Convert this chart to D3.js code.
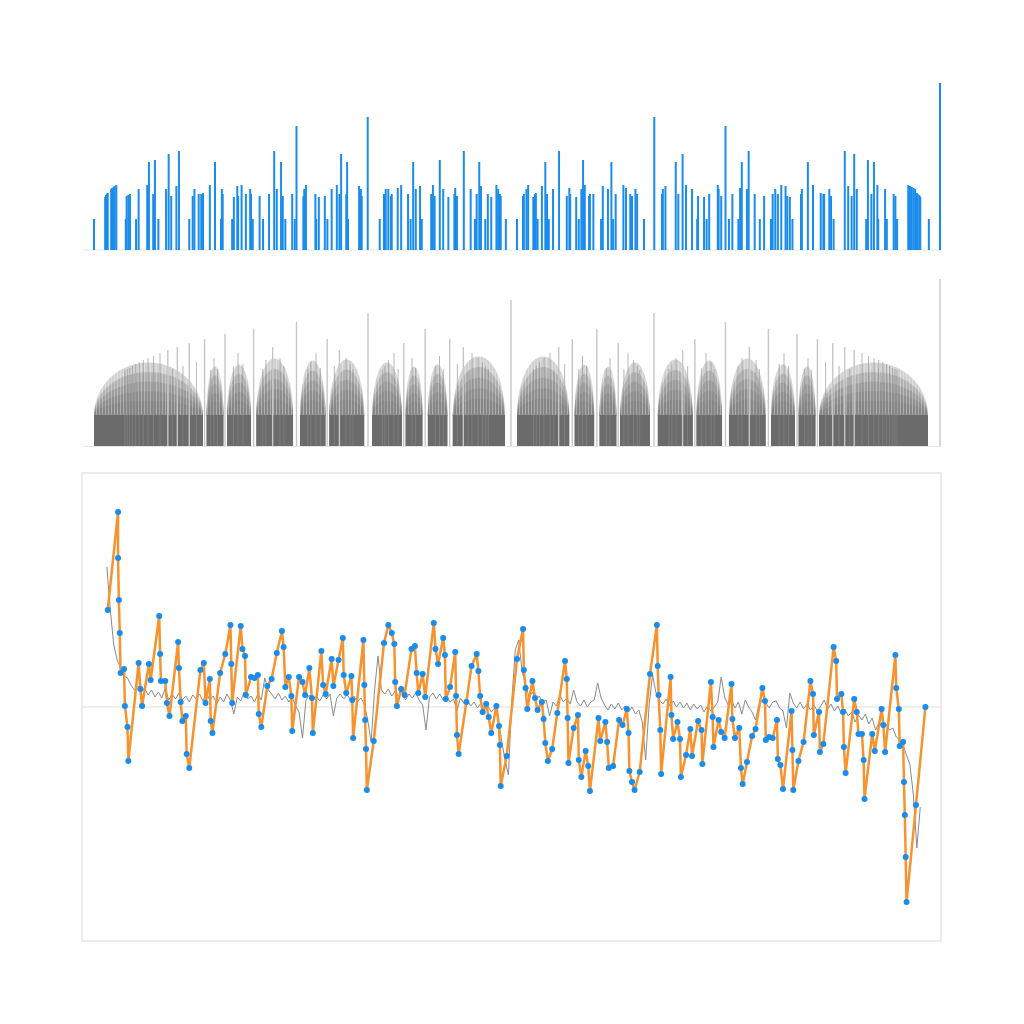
<!DOCTYPE html>
<html><head><meta charset="utf-8">
<script src="https://cdn.jsdelivr.net/npm/d3@7"></script>
<style>body{margin:0;background:#fff}svg{display:block}</style>
</head><body><svg id="c" width="1024" height="1024"></svg>
<script>
// ---------- DATA ----------
// top panel: blue bars (position per-mille of the unit interval, height)
const barPos = [14,27,28,29,30,34,35,37,38,40,51,52,54,56,63,66,76,78,83,85,89,98,101,104,110,113,125,129,131,136,139,141,149,155,162,163,164,175,177,181,182,186,191,196,197,199,207,211,218,224,227,232,234,237,245,248,250,
258,259,261,272,273,276,283,286,291,297,300,302,308,309,310,323,325,326,333,347,352,354,357,360,361,368,372,380,383,386,389,394,396,407,409,411,417,421,427,434,435,437,445,453,458,460,463,465,470,473,477,483,485,487,488,494,
507,514,515,518,520,526,528,529,531,536,540,542,544,549,556,565,568,569,576,579,582,584,586,591,592,596,605,607,613,617,619,622,631,634,639,641,645,647,655,667,676,677,680,692,695,700,704,711,717,718,725,728,731,741,742,745,750,754,
758,765,767,769,775,777,784,790,795,803,805,808,811,815,820,822,825,828,838,839,846,852,861,864,865,871,873,876,889,893,897,900,903,914,916,920,923,927,928,936,938,946,948,950,963,965,967,969,971,973,974,976,977,987,1000];
const barHeight = [31,53,55,56,57,61,62,63,64,65,31,54,55,56,31,61,65,88,56,90,31,61,96,54,64,99,31,54,61,56,56,57,65,88,31,61,56,31,53,64,54,65,56,61,56,31,54,31,56,99,61,88,54,31,56,31,124,
54,61,65,56,31,53,54,31,61,65,56,96,56,88,31,64,61,54,133,31,56,61,61,54,56,62,65,56,31,88,61,64,31,56,65,54,90,61,53,56,62,54,99,61,31,56,88,64,31,56,53,65,61,56,54,31,
31,54,56,61,65,53,56,57,31,64,88,56,31,61,99,54,62,56,53,31,61,90,65,54,56,56,31,64,61,88,31,56,65,62,56,54,61,56,31,133,56,61,64,88,56,96,65,61,31,54,53,31,56,65,61,54,124,31,
56,31,62,88,61,99,56,31,54,31,56,61,56,65,64,54,53,31,56,61,88,65,57,56,56,61,54,31,99,64,54,96,61,31,90,56,88,65,31,61,31,56,54,31,65,64,63,62,61,57,56,55,53,31,167];

// middle panel: fraction spikes and the dense arches between them
const spikeFractions = ("1/1 1/2 1/3 2/3 1/4 3/4 1/5 2/5 3/5 4/5 1/6 5/6 1/7 2/7 3/7 4/7 5/7 6/7 1/8 3/8 5/8 7/8 " +
  "1/9 2/9 4/9 5/9 7/9 8/9 1/10 3/10 7/10 9/10 1/11 2/11 3/11 4/11 5/11 6/11 7/11 8/11 9/11 10/11 1/12 5/12 7/12 11/12 " +
  "1/13 2/13 3/13 4/13 5/13 6/13 7/13 8/13 9/13 10/13 11/13 12/13 1/14 3/14 5/14 9/14 11/14 13/14 " +
  "1/15 2/15 4/15 7/15 8/15 11/15 13/15 14/15 1/16 3/16 5/16 7/16 9/16 11/16 13/16 15/16 " +
  "1/17 2/17 3/17 4/17 5/17 6/17 7/17 8/17 9/17 10/17 11/17 12/17 13/17 14/17 15/17 16/17 " +
  "1/18 5/18 7/18 11/18 13/18 17/18 1/19 2/19 3/19 4/19 5/19 6/19 7/19 8/19 9/19 10/19 11/19 12/19 13/19 14/19 15/19 16/19 17/19 18/19 " +
  "1/20 3/20 7/20 9/20 11/20 13/20 17/20 19/20").split(" ");
const denominatorHeights = [167,146,133,124,117,112,107,103,99,96,93,90,88,86,84,82,80,78,77,76];
const archStart = [14,145,169,203,254,288,338,377,403,432,507,574,603,627,671,716,754,803,835,859];
const archEnd   = [141,165,197,246,284,329,373,397,426,493,568,597,623,662,712,746,797,831,855,986];
const archPeak  = [84,80,82,88,86,87,84,80,82,90,90,82,80,84,87,86,88,82,80,84];
const baseBandHeight = 31;

// bottom panel: thin gray series (uniform sampling from 29 to 977 per-mille)
const grayFrom = 29, grayTo = 977;
const grayValues = [140,97,62,47,39,31,29,22,17,21,15,19,12,17,10,15,9,19,7,13,8,14,7,11,5,12,8,13,6,14,
7,11,3,10,5,13,7,-7,10,6,15,8,11,5,13,7,29,17,13,8,14,7,11,5,10,1,-5,-31,7,12,7,11,6,12,8,13,-9,9,13,8,
12,7,11,5,9,3,-13,-35,17,51,17,13,18,11,16,10,15,7,13,9,14,7,2,-23,10,14,8,13,7,10,5,8,-4,9,4,7,1,5,-1,4,
-3,1,-5,-1,-11,-33,-53,-68,7,57,67,35,23,10,15,7,11,4,7,-9,5,1,12,5,9,3,17,5,1,7,0,5,7,24,9,2,-3,3,-2,4,
-3,1,-5,0,-7,-3,-15,-53,2,32,14,7,3,8,1,6,0,5,-1,4,-3,3,-2,2,-5,1,-4,0,5,30,10,2,7,-1,5,-7,7,0,-5,-13,
2,7,4,-1,5,6,-1,-4,-21,14,4,-1,5,-2,3,-3,2,-4,1,7,-2,3,-4,1,-7,-2,-9,-5,-15,-8,-13,-7,-17,-11,-23,-15,-21,-17,-23,-21,
-30,-33,-39,-48,-58,-88,-141,-100];
// bottom panel: orange series with blue markers
const orangeX = [30,42,42,43,44,45,49,50,53,54,66,68,70,78,80,90,91,92,97,99,102,112,113,115,117,121,122,125,138,142,
144,149,150,152,161,167,173,174,175,185,187,190,191,197,201,205,206,209,216,221,227,233,235,237,241,244,245,253,257,260,
265,268,269,279,281,284,291,293,299,304,305,308,314,315,316,328,329,330,331,332,340,352,357,361,364,365,367,372,376,384,
388,390,392,397,400,410,412,415,421,423,424,429,435,436,437,439,448,454,460,462,464,467,471,474,477,483,486,487,488,495,
507,514,515,517,519,525,528,531,536,538,540,543,548,554,563,565,566,567,573,578,579,582,587,590,592,602,604,610,612,614,
619,626,630,635,637,638,641,644,650,662,670,671,672,674,675,686,687,689,694,697,698,704,709,711,718,722,723,733,735,736,
742,745,749,757,758,761,766,768,770,775,781,785,793,796,797,801,805,810,811,814,817,827,828,829,835,841,849,852,853,859,
860,864,876,879,880,885,887,888,890,900,903,905,909,911,912,921,924,932,934,936,948,949,952,953,957,958,959,960,961,972,983];
const orangeY = [97,195,149,107,74,34,38,1,-20,-54,44,18,1,43,27,91,53,26,26,4,-9,65,39,5,-14,-9,-47,-61,37,44,
4,28,-14,-26,34,53,82,43,4,81,58,51,12,30,29,32,-7,-20,21,28,54,76,60,20,30,11,-24,30,25,12,
39,9,-26,56,22,13,48,21,47,69,32,14,31,7,-31,67,22,-13,-42,-83,-34,64,82,74,63,25,1,18,12,58,
61,34,14,33,10,84,58,43,69,52,8,20,55,11,-28,-47,5,41,53,36,11,-5,3,-10,-26,1,-19,-38,-79,-49,
48,78,37,19,-2,26,9,-3,5,-12,-36,-54,-42,-6,46,28,-11,-56,-21,-8,-53,-70,-44,-59,-84,-11,-34,-15,-35,-61,
-59,-13,-18,-2,-26,-64,-75,-83,-65,33,82,41,12,-23,-67,30,-8,-32,-15,-32,-70,-48,-22,-49,-14,-23,-57,25,-10,-40,
-13,-25,-31,23,-12,-31,-21,-61,-77,-55,-29,-22,19,6,-33,-30,-31,-13,-52,-58,-82,-4,-43,-83,-54,-35,26,13,-28,-5,
-45,-37,60,46,8,13,-5,-40,-66,8,-5,-27,-27,-53,-92,-27,-44,-2,-18,-45,52,19,-2,-39,-35,-75,-108,-150,-195,-98,0];

// ---------- DRAW ----------
const svg = d3.select("#c");
const x = d3.scaleLinear().domain([0, 1000]).range([82, 940]);
const yTop = d3.scaleLinear().domain([0, 167]).range([250, 83]);
const yMid = d3.scaleLinear().domain([0, 167]).range([446, 279]);
const yBot = d3.scaleLinear().domain([-234, 234]).range([941, 473]);
const BLUE = "#1a8cec", ORANGE = "#f7932f";

// stripe texture for the dense spike regions
const defs = svg.append("defs");
const pat = defs.append("pattern").attr("id", "stripes").attr("patternUnits", "userSpaceOnUse")
  .attr("width", 3).attr("height", 10);
pat.append("rect").attr("x", 0).attr("y", 0).attr("width", 1).attr("height", 10).attr("fill", "#ffffff");

// top panel
const gTop = svg.append("g");
gTop.append("line").attr("x1", 82).attr("x2", 941).attr("y1", yTop(0)).attr("y2", yTop(0))
  .attr("stroke", "#e6e6e6").attr("stroke-width", 1);
gTop.selectAll("line.bar").data(barPos.map((p, i) => ({p, h: barHeight[i]}))).join("line")
  .attr("class", "bar")
  .attr("x1", d => x(d.p)).attr("x2", d => x(d.p))
  .attr("y1", yTop(0)).attr("y2", d => yTop(d.h))
  .attr("stroke", BLUE).attr("stroke-width", 2);

// middle panel
const gMid = svg.append("g");
gMid.append("line").attr("x1", 82).attr("x2", 941).attr("y1", yMid(0) + 0.5).attr("y2", yMid(0) + 0.5)
  .attr("stroke", "#e6e6e6").attr("stroke-width", 1);
const arches = archStart.map((s, i) => ({s, e: archEnd[i], p: archPeak[i]}));
const capPath = (d, f) => {
  const x0 = x(d.s), x1 = x(d.e), yb = yMid(baseBandHeight);
  const yp = yMid(baseBandHeight + (d.p - baseBandHeight) * f);
  const rx = (x1 - x0) / 2, ry = yb - yp;
  return `M${x0},${yb + 0.5}A${rx},${ry} 0 0 1 ${x1},${yb + 0.5}Z`;
};
const capLevels = [1, 0.82, 0.64, 0.46, 0.28];
capLevels.forEach(f => {
  gMid.append("g").selectAll("path").data(arches).join("path")
    .attr("d", d => capPath(d, f))
    .attr("fill", "#747474").attr("fill-opacity", 0.33);
});
gMid.append("g").selectAll("path").data(arches).join("path")
  .attr("d", d => capPath(d, 1))
  .attr("fill", "url(#stripes)").attr("fill-opacity", 0.3);
gMid.append("g").selectAll("rect").data(arches).join("rect")
  .attr("x", d => x(d.s)).attr("width", d => x(d.e) - x(d.s))
  .attr("y", yMid(baseBandHeight)).attr("height", yMid(0) - yMid(baseBandHeight))
  .attr("fill", "#6b6b6b");
const spikes = spikeFractions.map(f => { const [a, b] = f.split("/").map(Number); return {pos: a / b * 1000, q: b, h: denominatorHeights[b - 1]}; });
gMid.append("g").selectAll("line").data(spikes.filter(d => d.q > 10)).join("line")
  .attr("x1", d => x(d.pos)).attr("x2", d => x(d.pos))
  .attr("y1", yMid(0)).attr("y2", d => yMid(d.h))
  .attr("stroke", "#8a8a8a").attr("stroke-opacity", 0.6).attr("stroke-width", 1);
gMid.append("g").selectAll("line").data(spikes.filter(d => d.q <= 10)).join("line")
  .attr("x1", d => x(d.pos)).attr("x2", d => x(d.pos))
  .attr("y1", yMid(0)).attr("y2", d => yMid(d.h))
  .attr("stroke", "#c6c6c6").attr("stroke-width", 1.4);

// bottom panel
const gBot = svg.append("g");
gBot.append("rect").attr("x", 82).attr("y", 473).attr("width", 859).attr("height", 468)
  .attr("fill", "none").attr("stroke", "#e6e6e6").attr("stroke-width", 1.5);
gBot.append("line").attr("x1", 82).attr("x2", 941).attr("y1", yBot(0)).attr("y2", yBot(0))
  .attr("stroke", "#e0e0e0").attr("stroke-width", 1);
const gx = d3.scaleLinear().domain([0, grayValues.length - 1]).range([x(grayFrom), x(grayTo)]);
gBot.append("path").datum(grayValues)
  .attr("d", d3.line().x((d, i) => gx(i)).y(d => yBot(d)))
  .attr("fill", "none").attr("stroke", "#8a8a8a").attr("stroke-width", 1);
const pts = orangeX.map((p, i) => ({p, v: orangeY[i]}));
gBot.append("path").datum(pts)
  .attr("d", d3.line().x(d => x(d.p)).y(d => yBot(d.v)))
  .attr("fill", "none").attr("stroke", ORANGE).attr("stroke-width", 2.5).attr("stroke-linejoin", "round");
gBot.append("g").selectAll("circle").data(pts).join("circle")
  .attr("cx", d => x(d.p)).attr("cy", d => yBot(d.v)).attr("r", 3)
  .attr("fill", BLUE);
</script></body></html>
